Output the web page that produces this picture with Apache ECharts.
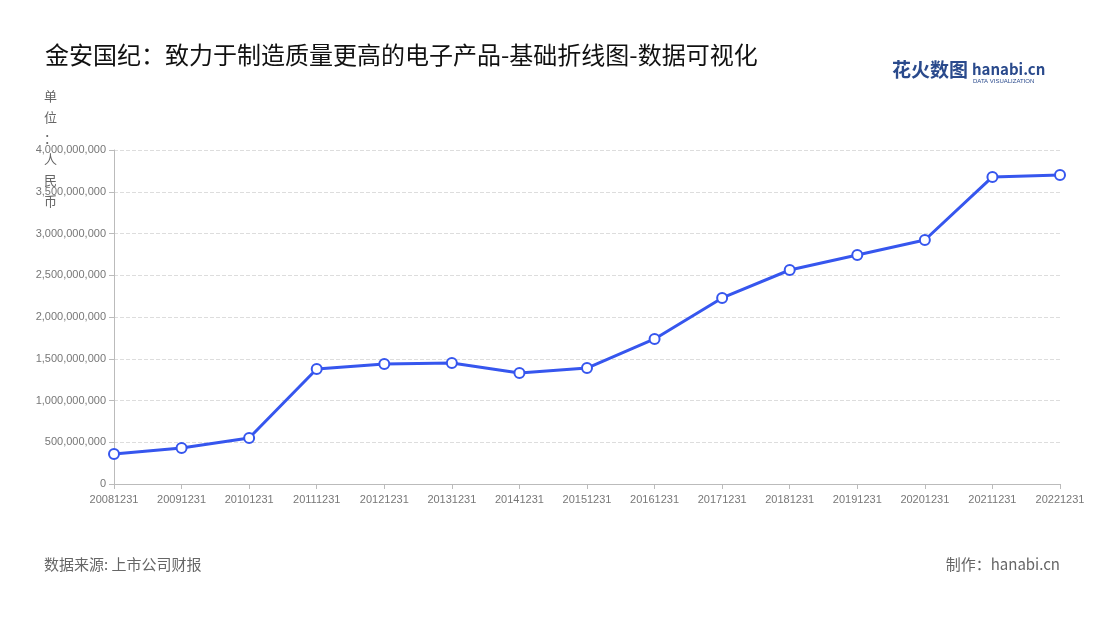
<!DOCTYPE html>
<html><head><meta charset="utf-8">
<script src="https://cdn.jsdelivr.net/npm/echarts@6/dist/echarts.min.js"></script>
<style>body{margin:0}#c{width:1100px;height:620px}</style></head>
<body><div id="c"></div>
<script>
var years = ['20081231','20091231','20101231','20111231','20121231','20131231','20141231','20151231','20161231','20171231','20181231','20191231','20201231','20211231','20221231'];
var revenue = [360000000,431000000,551000000,1377000000,1437000000,1449000000,1329000000,1389000000,1737000000,2228000000,2563000000,2743000000,2922000000,3677000000,3701000000];

var chart = echarts.init(document.getElementById('c'));
var font = '"Noto Sans CJK SC", "Noto Sans", sans-serif';
chart.setOption({
    title: {
        text: '金安国纪：致力于制造质量更高的电子产品-基础折线图-数据可视化',
        left: 40, top: 38,
        textStyle: {fontSize: 24, fontWeight: 'normal', color: '#111', fontFamily: font}
    },
    graphic: [
        {type: 'text', left: 892, top: 60, style: {text: '花火数图', fontSize: 19, fontWeight: 'bold', fill: '#2a4a8c', fontFamily: font}},
        {type: 'text', left: 972, top: 62, style: {text: 'hanabi.cn', fontSize: 15, fontWeight: 'bold', fill: '#2a4a8c', fontFamily: font}},
        {type: 'text', left: 973, top: 78, style: {text: 'DATA VISUALIZATION', fontSize: 6, fill: '#2a4a8c'}},
        {type: 'text', left: 44, top: 86, style: {text: '单\n位\n：\n人\n民\n币', fontSize: 13, lineHeight: 21, fill: '#666', fontFamily: font}},
        {type: 'text', left: 44, top: 557, style: {text: '数据来源: 上市公司财报', fontSize: 15, fill: '#666', fontFamily: font}},
        {type: 'text', right: 40, top: 557, style: {text: '制作：hanabi.cn', fontSize: 15, fill: '#666', fontFamily: font}}
    ],
    grid: {left: 114, right: 40, top: 150, bottom: 136},
    xAxis: {
        type: 'category', data: years, boundaryGap: false,
        axisLine: {lineStyle: {color: '#bbb'}},
        axisTick: {show: true, alignWithLabel: true, lineStyle: {color: '#bbb'}},
        axisLabel: {color: '#777', fontSize: 11, interval: 0, margin: 10}
    },
    yAxis: {
        type: 'value', min: 0, max: 4000000000, interval: 500000000,
        axisLine: {show: true, lineStyle: {color: '#bbb'}},
        axisTick: {show: true, lineStyle: {color: '#bbb'}},
        axisLabel: {color: '#777', fontSize: 11, formatter: function (v) { return v.toLocaleString('en-US'); }},
        splitLine: {lineStyle: {type: 'dashed', color: '#ddd'}}
    },
    series: [{
        type: 'line', data: revenue,
        symbol: 'circle', symbolSize: 10,
        lineStyle: {color: '#3656ee', width: 3},
        itemStyle: {color: '#fff', borderColor: '#3656ee', borderWidth: 2}
    }]
});
</script></body></html>
